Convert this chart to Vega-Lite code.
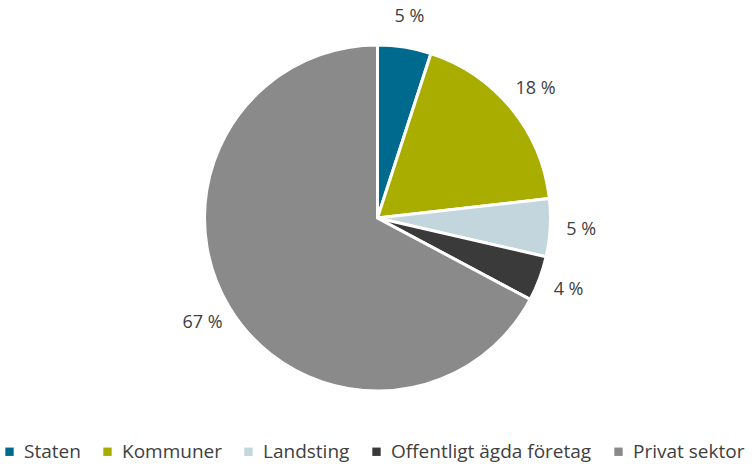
{
  "$schema": "https://vega.github.io/schema/vega-lite/v6.json",
  "width": 755,
  "height": 464,
  "autosize": {"type": "fit", "contains": "padding"},
  "padding": {"top": 12, "bottom": 2, "left": 0, "right": 0},
  "background": "white",
  "config": {"view": {"stroke": null}, "font": "Open Sans"},
  "data": {
    "values": [
      {"sektor": "Staten", "andel": 5.0, "etikett": "5 %", "ordning": 1},
      {"sektor": "Kommuner", "andel": 18.2, "etikett": "18 %", "ordning": 2},
      {"sektor": "Landsting", "andel": 5.4, "etikett": "5 %", "ordning": 3},
      {"sektor": "Offentligt ägda företag", "andel": 4.2, "etikett": "4 %", "ordning": 4},
      {"sektor": "Privat sektor", "andel": 67.2, "etikett": "67 %", "ordning": 5}
    ]
  },
  "encoding": {
    "theta": {"field": "andel", "type": "quantitative", "stack": true},
    "order": {"field": "ordning", "type": "quantitative"},
    "color": {
      "field": "sektor",
      "type": "nominal",
      "scale": {
        "domain": ["Staten", "Kommuner", "Landsting", "Offentligt ägda företag", "Privat sektor"],
        "range": ["#006A8E", "#A9AD00", "#C4D6DD", "#3A3A3A", "#8A8A8A"]
      },
      "legend": {
        "orient": "bottom",
        "direction": "horizontal",
        "title": null,
        "symbolType": "square",
        "symbolSize": 70,
        "symbolStrokeWidth": 0,
        "labelFontSize": 19,
        "labelColor": "#404040",
        "labelFont": "Open Sans",
        "columnPadding": 17,
        "symbolOffset": 0,
        "labelOffset": 5,
        "offset": 18,
        "labelLimit": 300
      }
    }
  },
  "layer": [
    {
      "mark": {"type": "arc", "outerRadius": 173, "stroke": "white", "strokeWidth": 3}
    },
    {
      "mark": {"type": "text", "radius": 204, "fontSize": 18, "color": "#404040", "font": "Open Sans"},
      "encoding": {
        "text": {"field": "etikett", "type": "nominal"},
        "color": {"value": "#404040"}
      }
    }
  ]
}
